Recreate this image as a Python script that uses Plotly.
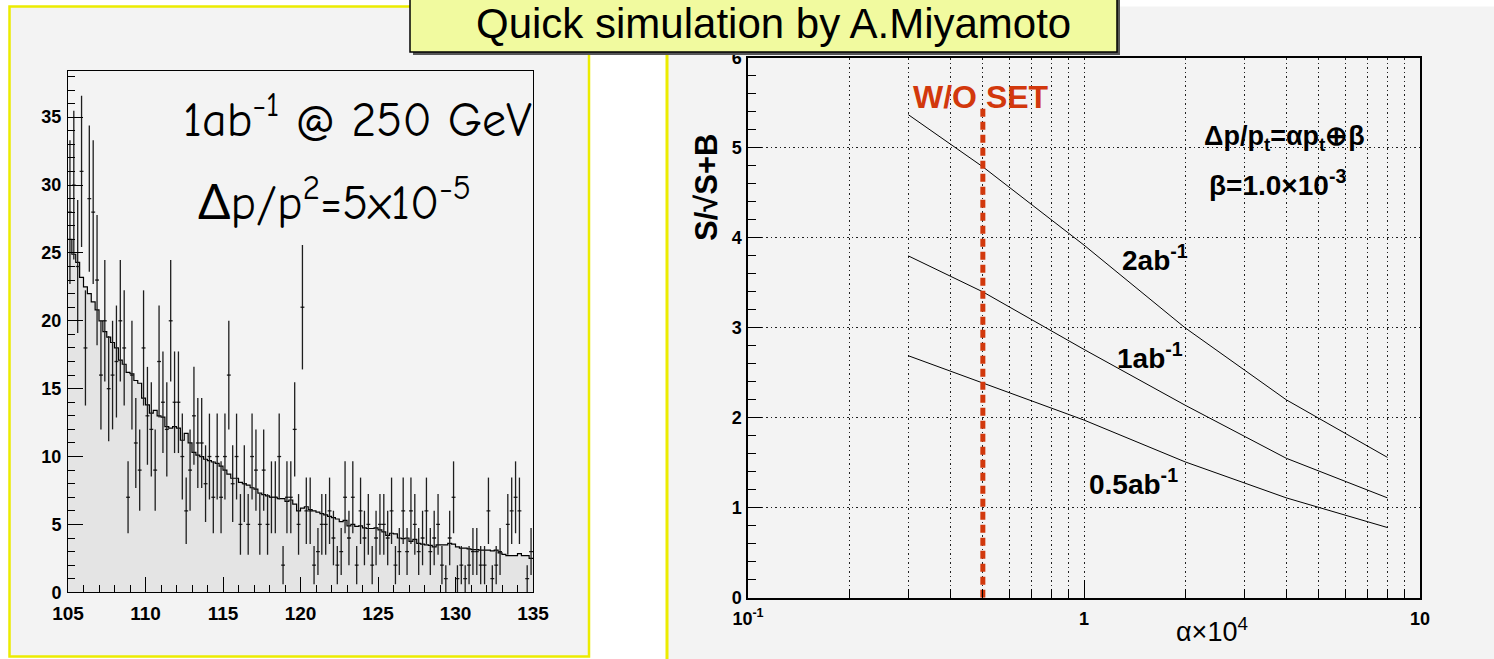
import math
import plotly.graph_objects as go

W, H = 1494, 659

# ---------------- Left panel: histogram ----------------
HIST_LO, HIST_HI, NBINS = 105.0, 135.0, 120
data_counts = [28, 30, 24, 31, 18, 29, 28, 23, 16, 20, 15, 16, 17, 20, 18, 7, 16, 11, 9, 18, 13, 12, 9, 17, 14,
               12, 20, 14, 14, 10, 6, 9, 13, 11, 11, 8, 10, 7, 10, 7, 10, 16, 8, 10, 5, 8, 5, 10, 9, 5,
               9, 5, 7, 7, 10, 2, 7, 7, 12, 5, 21, 6, 6, 2, 3, 5, 5, 6, 4, 2, 3, 7, 4,
               7, 2, 6, 4, 5, 2, 4, 5, 5, 4, 6, 2, 3, 6, 3, 6, 5, 3, 4, 6, 3, 4, 5,
               2, 1, 4, 7, 1, 2, 1, 2, 3, 3, 2, 2, 6, 1, 2, 3, 0, 5, 6, 7, 6, 0, 1, 3]
bkg_level = [26.0, 24.9, 24.3, 23.2, 22.5, 22.0, 21.4, 20.8, 20.0, 19.2, 18.8, 18.4, 18.0, 17.1, 16.8, 16.2, 16.1,
             15.6, 15.4, 14.3, 13.8, 13.2, 13.4, 13.0, 12.9,
             12.2, 12.1, 12.2, 12.1, 11.2, 11.7, 11.0, 10.3, 10.1, 10.0, 9.8, 9.7, 9.6, 9.5, 9.3, 9.0, 8.7, 8.4,
             8.4, 8.1, 8.0, 7.9, 7.7, 7.6, 7.3,
             7.2, 7.1, 7.0, 7.0, 6.9, 6.9, 6.7, 6.8, 6.5, 6.0, 6.2, 6.3, 6.1, 6.0, 5.9, 5.8, 5.7, 5.6, 5.5, 5.4,
             5.2, 5.3, 4.9,
             5.0, 4.85, 4.9, 4.75, 4.7, 4.7, 4.75, 4.6, 4.45, 4.2, 4.35, 4.3, 4.0, 3.95, 4.0, 3.75, 3.9, 3.6,
             3.55, 3.5, 3.45, 3.35, 3.5,
             3.5, 3.5, 3.6, 3.55, 3.35, 3.25, 3.25, 3.2, 3.15, 3.15, 3.1, 3.1, 3.1, 3.05, 3.1, 2.9, 2.8, 2.7,
             2.7, 2.7, 2.85, 2.7, 2.7, 2.5]
left_xticks = [105, 110, 115, 120, 125, 130, 135]
left_yticks = [0, 5, 10, 15, 20, 25, 30, 35]

# ---------------- Right panel: significance curves ----------------
alpha_pts = [0.3, 0.5, 1.0, 2.0, 4.0, 8.0]
sig_2ab = [5.37, 4.79, 3.92, 3.00, 2.20, 1.56]
sig_1ab = [3.80, 3.40, 2.76, 2.14, 1.55, 1.11]
sig_05ab = [2.69, 2.39, 1.975, 1.51, 1.11, 0.78]
wo_set_alpha = 0.5
wo_set_top = 5.45
right_xminor = [0.2, 0.3, 0.4, 0.5, 0.6, 0.7, 0.8, 0.9, 2, 3, 4, 5, 6, 7, 8, 9]
right_xmajor = [0.1, 1, 10]
right_xmajor_text = ['10<sup>-1</sup>', '1', '10']
right_yticks = [0, 1, 2, 3, 4, 5, 6]

bw = (HIST_HI - HIST_LO) / NBINS
edges = [HIST_LO + i * bw for i in range(NBINS + 1)]
centers = [HIST_LO + (i + 0.5) * bw for i in range(NBINS)]


def px(x):
    return x / W


def py(y):
    return 1 - y / H


fig = go.Figure()

# background staircase (filled)
fig.add_trace(go.Scatter(
    x=edges, y=bkg_level + [bkg_level[-1]], mode='lines', line=dict(shape='hv', color='black', width=1.2),
    fill='tozeroy', fillcolor='#e4e4e4', xaxis='x', yaxis='y', hoverinfo='skip', showlegend=False))

# data points with Poisson errors
nz = [i for i in range(NBINS) if data_counts[i] > 0]
fig.add_trace(go.Scatter(
    x=[centers[i] for i in nz], y=[data_counts[i] for i in nz], mode='markers',
    marker=dict(size=1, color='black'),
    error_y=dict(type='data', array=[math.sqrt(data_counts[i]) for i in nz], color='#1e1e1e',
                 thickness=1.3, width=0),
    error_x=dict(type='constant', value=bw / 2, color='#1e1e1e', thickness=1.3, width=0),
    xaxis='x', yaxis='y', showlegend=False))

# right panel curves
for ys in (sig_2ab, sig_1ab, sig_05ab):
    fig.add_trace(go.Scatter(x=alpha_pts, y=ys, mode='lines', line=dict(color='black', width=1),
                             xaxis='x2', yaxis='y2', showlegend=False))

# W/O SET marker line (on the overlay axis with identical range so that it is rendered)
fig.add_trace(go.Scatter(x=[wo_set_alpha, wo_set_alpha], y=[0, wo_set_top], mode='lines',
                         line=dict(color='#d2380c', width=5, dash='8px,5px'),
                         xaxis='x3', yaxis='y2', showlegend=False))

tickfont = dict(family='Liberation Sans, Arial', size=18, color='black', weight='bold')
grid = dict(showgrid=True, gridcolor='#222', gridwidth=1, griddash='1.5px,3px')

fig.update_layout(
    template='none',
    width=W, height=H, margin=dict(l=0, r=0, t=0, b=0, autoexpand=False),
    paper_bgcolor='white', plot_bgcolor='#f3f3f3',
    xaxis=dict(domain=[px(68), px(533)], range=[HIST_LO, HIST_HI], tickvals=left_xticks, automargin=False,
               ticks='inside', ticklen=15, tickcolor='black', showline=True, linecolor='black', linewidth=1,
               mirror=True, showgrid=False, zeroline=False, tickfont=dict(tickfont, size=19),
               ticklabelstandoff=4,
               minor=dict(dtick=1, ticks='inside', ticklen=7, tickcolor='black', showgrid=False)),
    yaxis=dict(domain=[py(592.3), py(71)], range=[0, 38.4], tickvals=left_yticks, automargin=False,
               ticks='inside', ticklen=15, tickcolor='black', showline=True, linecolor='black', linewidth=1,
               mirror=True, showgrid=False, zeroline=False, tickfont=tickfont, ticklabelstandoff=2,
               minor=dict(dtick=1, ticks='inside', ticklen=7, tickcolor='black', showgrid=False)),
    xaxis2=dict(domain=[px(748), px(1420)], type='log', range=[-1, 1], tickvals=right_xminor,
                showticklabels=False, ticks='inside', ticklen=9, tickcolor='black', automargin=False,
                showline=True, linecolor='black', linewidth=1.5, mirror=True, zeroline=False,
                anchor='y2', **grid),
    xaxis3=dict(domain=[px(748), px(1420)], type='log', range=[-1, 1], tickvals=right_xmajor,
                ticktext=right_xmajor_text, ticks='inside', ticklen=18, tickcolor='black',
                tickfont=tickfont, ticklabelstandoff=8, automargin=False,
                showline=False, zeroline=False, overlaying='x2', anchor='y2', **grid),
    yaxis2=dict(domain=[py(597.7), py(58)], range=[0, 6], tickvals=right_yticks, automargin=False,
                ticks='inside', ticklen=14, tickcolor='black', showline=True, linecolor='black', linewidth=1.5,
                mirror=True, zeroline=False, tickfont=tickfont, ticklabelstandoff=1, anchor='x2',
                minor=dict(dtick=0.2, ticks='inside', ticklen=8, tickcolor='black', showgrid=False), **grid),
)

shapes = []
# left panel
shapes.append(dict(type='rect', xref='paper', yref='paper', x0=px(9.5), x1=px(589), y0=py(656.5), y1=py(6.5),
                   fillcolor='#f3f3f3', line=dict(color='#ecec00', width=2.5), layer='below'))
# right panel
shapes.append(dict(type='rect', xref='paper', yref='paper', x0=px(667), x1=px(1500), y0=py(660), y1=py(6.5),
                   fillcolor='#f3f3f3', line=dict(width=0), layer='below'))
shapes.append(dict(type='line', xref='paper', yref='paper', x0=px(667), x1=px(667), y0=py(659), y1=py(6.5),
                   line=dict(color='#ecec00', width=3), layer='below'))
# title box shadow and box
shapes.append(dict(type='rect', xref='paper', yref='paper', x0=px(413), x1=px(1120), y0=py(55), y1=py(-5),
                   fillcolor='#555555', line=dict(width=0), layer='above'))
shapes.append(dict(type='rect', xref='paper', yref='paper', x0=px(410), x1=px(1117), y0=py(52), y1=py(-5),
                   fillcolor='#f1fa9f', line=dict(color='black', width=1.5), layer='above'))
fig.update_layout(shapes=shapes)

comic = 'Comic Sans MS, Comic Neue, Lato, sans-serif'
helv = 'Liberation Sans, Arial, sans-serif'
ann = []


def add_text(x, y, text, size, family=helv, color='black', angle=0):
    ann.append(dict(xref='paper', yref='paper', x=px(x), y=py(y), text=text, showarrow=False,
                    font=dict(family=family, size=size, color=color), textangle=angle,
                    xanchor='center', yanchor='middle'))


add_text(773, 24, 'Quick simulation by A.Miyamoto', 42)
add_text(357, 117, '1ab<sup>-1</sup> @ 250 GeV', 48, family=comic)
add_text(334, 200, 'Δp/p<sup>2</sup>=5x10<sup>-5</sup>', 48, family=comic)
add_text(981, 97, '<b>W/O SET</b>', 32, color='#d2380c')
add_text(1284, 138, '<b>Δp/p<sub>t</sub>=αp<sub>t</sub>⊕β</b>', 27)
add_text(1277, 183, '<b>β=1.0×10<sup>-3</sup></b>', 28)
add_text(1155, 258, '<b>2ab<sup>-1</sup></b>', 28)
add_text(1150, 356, '<b>1ab<sup>-1</sup></b>', 28)
add_text(1133, 482, '<b>0.5ab<sup>-1</sup></b>', 28)
add_text(1212, 630, 'α×10<sup>4</sup>', 27)
add_text(706, 188, '<b>S/√S+B</b>', 31, angle=-90)
fig.update_layout(annotations=ann)

fig.write_html("out.html", post_script="document.body.style.margin='0';",
               config={'displayModeBar': False})
